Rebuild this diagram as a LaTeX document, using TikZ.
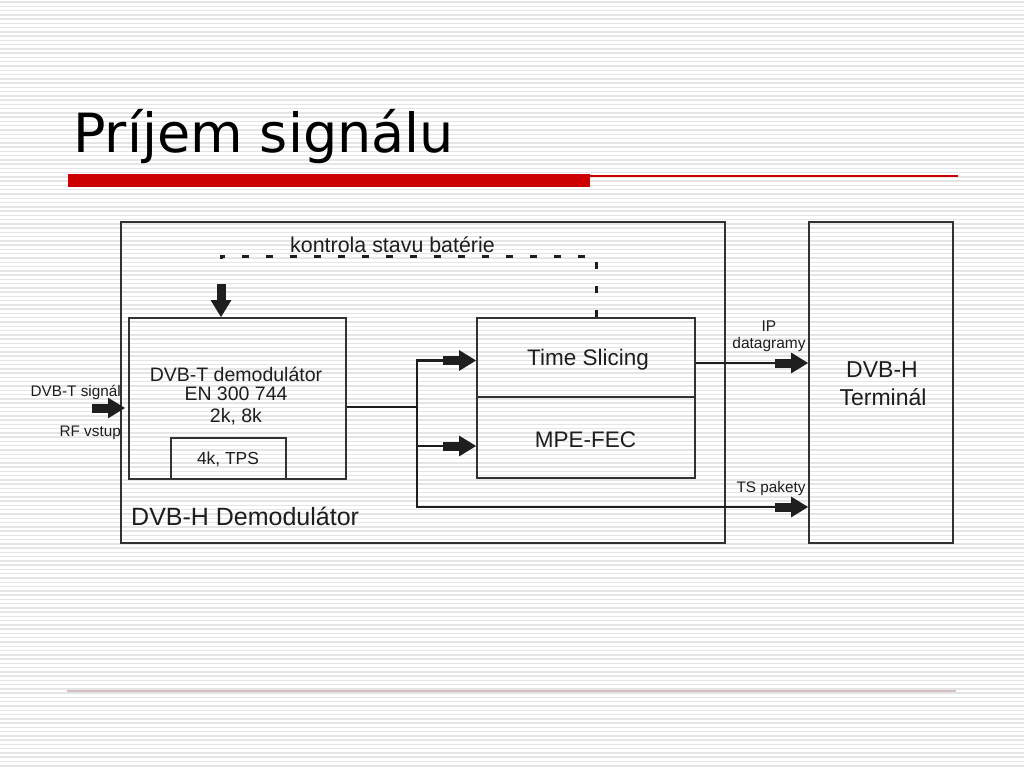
\documentclass[tikz,border=0pt]{standalone}
\usepackage{fontspec}
\setmainfont{Liberation Sans}
\newfontfamily\titlefont{DejaVu Sans}
\usetikzlibrary{arrows.meta}
\definecolor{stripe}{RGB}{229,229,229}
\definecolor{barred}{RGB}{204,0,0}
\definecolor{ink}{RGB}{30,30,30}
\definecolor{boxline}{RGB}{50,50,50}
\definecolor{footline}{RGB}{212,192,192}
\begin{document}
\begin{tikzpicture}[x=1pt,y=-1pt,
  box/.style={draw=boxline,line width=1.7pt,rectangle,inner sep=0pt},
  txt/.style={inner sep=0pt,text=ink,font=\fontsize{#1}{#1}\selectfont},
  fat/.style={draw=ink,line width=2.8pt,
    -{Rectangle[length=16pt,width=9pt,sep=0pt]Triangle[length=17pt,width=20pt]}},
  dashline/.style={draw=ink,line width=3pt,dash pattern=on 7pt off 17pt},
  wire/.style={draw=ink,line width=2.8pt}]
\useasboundingbox (0,0) rectangle (1024,768);
\fill[white] (0,0) rectangle (1024,768);
% background stripes
\foreach \i in {0,...,179}{
  \draw[stripe,line width=1.5pt] (0,{\i*4.2667+2}) -- (1024,{\i*4.2667+2});
}
% title
\node[txt=54,anchor=base west,font=\titlefont\fontsize{54}{54}\selectfont,text=black] (title) at (73,152) {Príjem signálu};
\fill[barred] (68,174) rectangle (590,187);
\draw[barred,line width=1.3pt] (590,176) -- (958,176);
\draw[footline,line width=1.5pt] (67,691) -- (956,691);
% boxes
\node[box,minimum width=604pt,minimum height=321pt] (outer) at (423,382.5) {};
\node[box,minimum width=144pt,minimum height=321pt] (term) at (881,382.5) {};
\node[box,minimum width=217pt,minimum height=161pt] (dvbt) at (237.5,398.5) {};
\node[box,minimum width=115pt,minimum height=41pt] (tps) at (228.5,458.5) {};
\node[box,minimum width=218pt,minimum height=79pt] (ts) at (586,357.5) {};
\node[box,minimum width=218pt,minimum height=81pt] (mpe) at (586,437.5) {};
% texts
\node[txt=19.5,anchor=base] (t1) at (236,381) {DVB-T demodulátor};
\node[txt=19.5,anchor=base] (t2) at (236,400) {EN 300 744};
\node[txt=19.5,anchor=base] (t3) at (236,422) {2k, 8k};
\node[txt=17.4,anchor=base] (t4) at (228,464) {4k, TPS};
\node[txt=22.5,anchor=base] (t5) at (588,365) {Time Slicing};
\node[txt=22.5,anchor=base] (t6) at (585.5,447) {MPE-FEC};
\node[txt=25,anchor=base west] (t7) at (131,525) {DVB-H Demodulátor};
\node[txt=23,anchor=base] (t8) at (882,377) {DVB-H};
\node[txt=23,anchor=base] (t9) at (883,405) {Terminál};
\node[txt=15.3,anchor=base east] (t10) at (121,396) {DVB-T signál};
\node[txt=15.3,anchor=base east] (t11) at (121,436) {RF vstup};
\node[txt=15.5,anchor=base] (t12) at (769,331) {IP};
\node[txt=15.5,anchor=base] (t13) at (769,348) {datagramy};
\node[txt=15.3,anchor=base] (t14) at (771,492) {TS pakety};
% connectors
\coordinate (j) at (417,407);
\coordinate (corner) at (221,256);
\coordinate (dashend) at (221,270);
\coordinate (downstart) at (221,284);
\coordinate (rfin) at (92,408);
\coordinate (rfend) at (125,408);
\draw[dashline] ([xshift=10pt]ts.north) |- (corner) -- (dashend);
\draw[fat] (downstart) -- (downstart |- dvbt.north);
\draw[fat] (rfin) -- (rfend);
\draw[wire] (dvbt.east |- j) -- (j);
\draw[fat] (j) |- ([yshift=-3pt]ts.west);
\draw[fat] (j) |- ([yshift=-8.5pt]mpe.west);
\draw[fat] (j) |- (term.west |- 0,507);
\draw[fat] ([yshift=-5.5pt]ts.east) -- (term.west |- 0,363);
\node[txt=21.4,anchor=base west] (t15) at (290,252) {kontrola stavu batérie};
\end{tikzpicture}
\end{document}
